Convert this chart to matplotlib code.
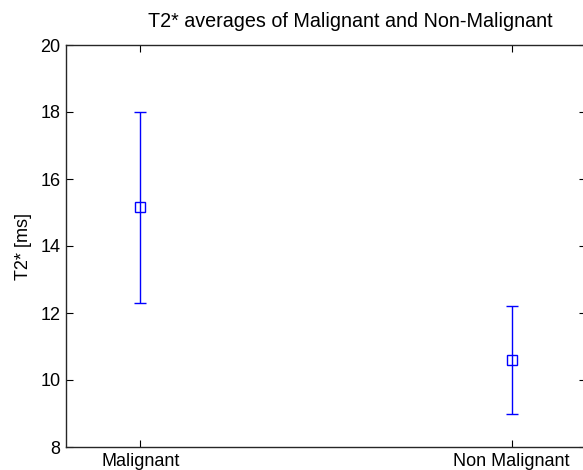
import matplotlib
matplotlib.use("Agg")
import matplotlib.pyplot as plt

plt.rcParams["font.family"] = ["Liberation Sans", "DejaVu Sans"]

categories = ["Malignant", "Non Malignant"]
means = [15.15, 10.6]
errors = [2.85, 1.62]
y_ticks = [8, 10, 12, 14, 16, 18, 20]

fig = plt.figure(figsize=(5.83, 4.70), dpi=100)
ax = fig.add_axes([66 / 583, 23 / 470, 520 / 583, 402 / 470])

x = list(range(1, len(categories) + 1))
ax.errorbar(x, means, yerr=errors, fmt="s", color="#0000ff", mfc="none",
            mec="#0000ff", ms=7, mew=1.0, elinewidth=1.0, capsize=4.5,
            capthick=1.0)

ax.set_xlim(0.8, 2.2)
ax.set_ylim(8, 20)
ax.set_xticks(x)
ax.set_xticklabels(categories)
ax.set_yticks(y_ticks)
ax.tick_params(direction="in", top=True, right=True, length=5, width=0.8,
               labelsize=13, pad=4)
for spine in ax.spines.values():
    spine.set_linewidth(1.0)
    spine.set_color("#262626")

ax.set_ylabel("T2* [ms]", fontsize=13, labelpad=6)
# the original figure was cropped on the right, so the title sits off-centre
ax.set_title("T2* averages of Malignant and Non-Malignant", fontsize=14.2,
             x=0.546, pad=13)

fig.savefig("out.png", dpi=100)
